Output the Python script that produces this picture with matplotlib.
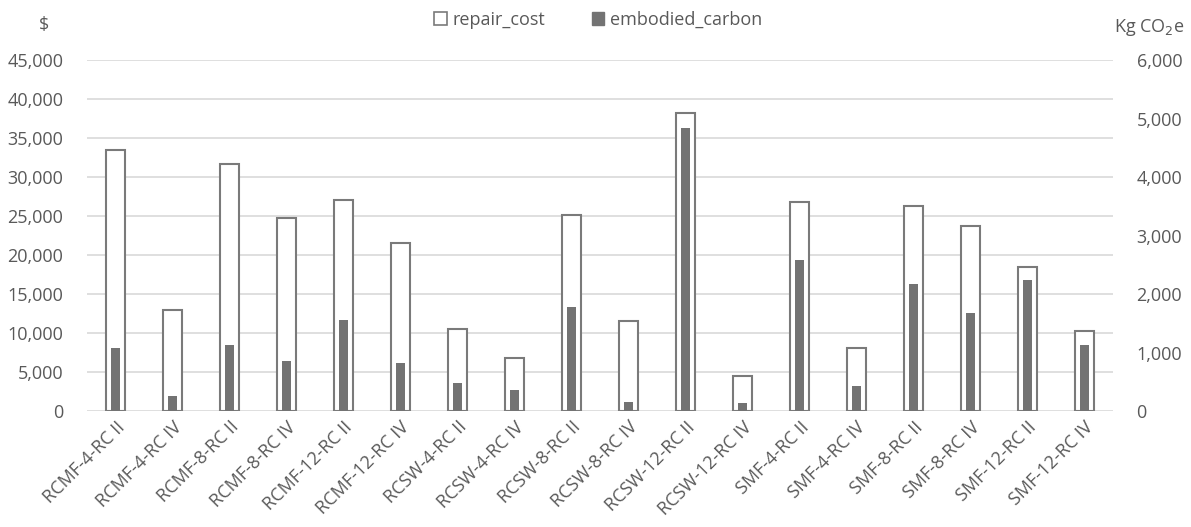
import numpy as np
from matplotlib import pyplot as plt
from matplotlib.patches import Patch

categories = ['RCMF-4-RC II', 'RCMF-4-RC IV', 'RCMF-8-RC II', 'RCMF-8-RC IV',
              'RCMF-12-RC II', 'RCMF-12-RC IV', 'RCSW-4-RC II', 'RCSW-4-RC IV',
              'RCSW-8-RC II', 'RCSW-8-RC IV', 'RCSW-12-RC II', 'RCSW-12-RC IV',
              'SMF-4-RC II', 'SMF-4-RC IV', 'SMF-8-RC II', 'SMF-8-RC IV',
              'SMF-12-RC II', 'SMF-12-RC IV']
repair_cost = [33500, 13000, 31700, 24800, 27000, 21600, 10500, 6800, 25200,
               11600, 38200, 4500, 26800, 8100, 26300, 23700, 18500, 10300]
embodied_carbon = [1077, 251, 1122, 855, 1550, 820, 479, 359, 1772,
                   160, 4832, 131, 2581, 433, 2171, 1669, 2245, 1128]

TEXT = '#595959'
EDGE = '#7a7a7a'
FILL = '#737373'
GRID = '#d9d9d9'
FS = 13


def main():
  plt.rcParams['font.family'] = ['Open Sans', 'DejaVu Sans']
  fig = plt.figure(figsize=(11.91, 5.27), dpi=100)
  ax = fig.add_axes([0.073, 0.220, 0.8615, 0.666])
  ax2 = ax.twinx()

  x = np.arange(len(categories))
  ax.bar(x, repair_cost, width=0.32, color='white', edgecolor=EDGE,
         linewidth=1.5, zorder=2)
  ax2.bar(x, embodied_carbon, width=0.165, color=FILL, zorder=3)

  ax.set_xlim(-0.5, len(categories) - 0.5)
  ax.set_ylim(0, 45000)
  ax2.set_ylim(0, 6000)
  ax.set_yticks(np.arange(0, 45001, 5000))
  ax2.set_yticks(np.arange(0, 6001, 1000))
  ax.yaxis.set_major_formatter(plt.FuncFormatter(lambda v, p: f'{v:,.0f}'))
  ax2.yaxis.set_major_formatter(plt.FuncFormatter(lambda v, p: f'{v:,.0f}'))
  ax.grid(axis='y', color=GRID, linewidth=1.2, zorder=0)
  ax.set_axisbelow(True)

  ax.set_xticks(x)
  ax.set_xticklabels(categories, rotation=45, ha='right',
                     rotation_mode='anchor')
  for a in (ax, ax2):
    for s in a.spines.values():
      s.set_visible(False)
    a.tick_params(length=0, colors=TEXT, labelsize=FS)
  ax.tick_params(axis='y', pad=17)
  ax2.tick_params(axis='y', pad=17)
  ax.tick_params(axis='x', pad=5)

  fig.text(44 / 1191, 1 - 25 / 527, '$', color=TEXT, fontsize=FS,
           ha='center', va='center')
  fig.text(1149 / 1191, 1 - 27 / 527, 'Kg CO$_2$e', color=TEXT, fontsize=FS,
           ha='center', va='center')

  handles = [Patch(facecolor='white', edgecolor=EDGE, linewidth=1.2),
             Patch(facecolor=FILL, edgecolor=FILL)]
  fig.legend(handles, ['repair_cost', 'embodied_carbon'], loc='center',
             bbox_to_anchor=(598 / 1191, 1 - 20 / 527), ncol=2, frameon=False,
             handlelength=0.7, handleheight=0.7, handletextpad=0.3,
             columnspacing=2.6, labelcolor=TEXT, fontsize=FS)

  fig.savefig('out.png', dpi=100)


if __name__ == '__main__':
  main()
